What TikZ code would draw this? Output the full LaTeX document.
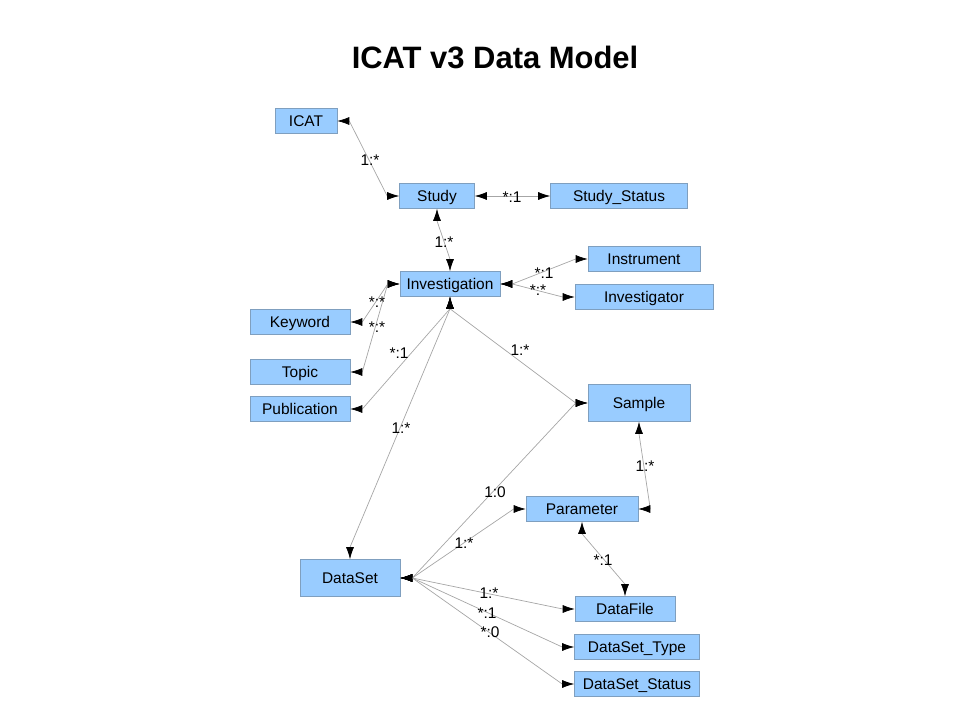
\documentclass[tikz,border=0pt]{standalone}
\usepackage{fontspec}
\setmainfont{Liberation Sans}
\usetikzlibrary{arrows.meta,calc}
\definecolor{boxblue}{HTML}{99CCFF}
\definecolor{boxline}{HTML}{7F9FBF}
\definecolor{linkgray}{HTML}{A6A6A6}
\tikzset{
  entity/.style={draw=boxline, fill=boxblue, minimum height=0.625cm, inner sep=0pt,
    text height=0.72em, text depth=0pt, font=\fontsize{11}{13}\selectfont},
  card/.style={inner sep=0pt, font=\fontsize{11}{13}\selectfont},
  assoc/.style={draw=linkgray, line width=0.5pt,
    {Latex[length=0.3cm,width=0.2cm,color=black]}-{Latex[length=0.3cm,width=0.2cm,color=black]}},
}
\begin{document}
\begin{tikzpicture}[x=0.025cm, y=-0.025cm]
        \useasboundingbox (0,0) rectangle (960,720);
        \node[font=\bfseries\fontsize{22}{26}\selectfont] (title) at (495,57) {ICAT v3 Data Model};

        % entities
        \node[entity, minimum width=1.55cm] (icat) at (306,121) {ICAT};
        \node[entity, minimum width=1.875cm] (study) at (437,196) {Study};
        \node[entity, minimum width=3.425cm] (studystatus) at (619,196) {Study\_Status};
        \node[entity, minimum width=2.8cm] (instrument) at (644,259) {Instrument};
        \node[entity, minimum width=2.5cm] (investigation) at (450,284) {Investigation};
        \node[entity, minimum width=3.45cm] (investigator) at (644,297) {Investigator};
        \node[entity, minimum width=2.5cm] (keyword) at (300,322) {Keyword};
        \node[entity, minimum width=2.5cm] (topic) at (300,372) {Topic};
        \node[entity, minimum width=2.5cm] (publication) at (300,409) {Publication};
        \node[entity, minimum width=2.55cm, minimum height=0.925cm] (sample) at (639,403) {Sample};
        \node[entity, minimum width=2.8cm] (parameter) at (582,509) {Parameter};
        \node[entity, minimum width=2.5cm, minimum height=0.925cm] (dataset) at (350,578) {DataSet};
        \node[entity, minimum width=2.5cm] (datafile) at (625,609) {DataFile};
        \node[entity, minimum width=3.125cm] (datasettype) at (637,647) {DataSet\_Type};
        \node[entity, minimum width=3.125cm] (datasetstatus) at (637,684) {DataSet\_Status};

        % associations
        \draw[assoc] (icat.east) -- ++(12,0) -- ($(study.west)+(-12,0)$) -- (study.west);
        \draw[assoc] (study.east) -- (studystatus.west);
        \draw[assoc] (study.south) -- ++(0,12) -- ($(investigation.north)+(0,-12)$) -- (investigation.north);
        \draw[assoc] (investigation.east) -- ++(12,0) -- ($(instrument.west)+(-12,0)$) -- (instrument.west);
        \draw[assoc] (investigation.east) -- ++(12,0) -- ($(investigator.west)+(-12,0)$) -- (investigator.west);
        \draw[assoc] (investigation.west) -- ++(-12,0) -- ($(keyword.east)+(12,0)$) -- (keyword.east);
        \draw[assoc] (investigation.west) -- ++(-12,0) -- ($(topic.east)+(12,0)$) -- (topic.east);
        \draw[assoc] (investigation.south) -- ++(0,12) -- ($(publication.east)+(12,0)$) -- (publication.east);
        \draw[assoc] (investigation.south) -- ++(0,12) -- ($(dataset.north)+(0,-12)$) -- (dataset.north);
        \draw[assoc] (investigation.south) -- ++(0,12) -- ($(sample.west)+(-12,0)$) -- (sample.west);
        \draw[assoc] (sample.west) -- ++(-12,0) -- ($(dataset.east)+(12,0)$) -- (dataset.east);
        \draw[assoc] (sample.south) -- ++(0,12) -- ($(parameter.east)+(12,0)$) -- (parameter.east);
        \draw[assoc] (parameter.west) -- ++(-12,0) -- ($(dataset.east)+(12,0)$) -- (dataset.east);
        \draw[assoc] (parameter.south) -- ++(0,12) -- ($(datafile.north)+(0,-12)$) -- (datafile.north);
        \draw[assoc] (dataset.east) -- ++(12,0) -- ($(datafile.west)+(-12,0)$) -- (datafile.west);
        \draw[assoc] (dataset.east) -- ++(12,0) -- ($(datasettype.west)+(-12,0)$) -- (datasettype.west);
        \draw[assoc] (dataset.east) -- ++(12,0) -- ($(datasetstatus.west)+(-12,0)$) -- (datasetstatus.west);

        % cardinalities
        \node[card] (c1) at (370,160) {1:*};
        \node[card] (c2) at (512,197) {*:1};
        \node[card] (c3) at (444,242) {1:*};
        \node[card] (c4) at (544,273) {*:1};
        \node[card] (c5) at (538,290) {*:*};
        \node[card] (c6) at (377,302) {*:*};
        \node[card] (c7) at (377,327) {*:*};
        \node[card] (c8) at (399,353) {*:1};
        \node[card] (c9) at (520,350) {1:*};
        \node[card] (c10) at (401,428) {1:*};
        \node[card] (c11) at (495,492) {1:0};
        \node[card] (c12) at (645,466) {1:*};
        \node[card] (c13) at (464,543) {1:*};
        \node[card] (c14) at (603,560) {*:1};
        \node[card] (c15) at (489,593) {1:*};
        \node[card] (c16) at (487,613) {*:1};
        \node[card] (c17) at (490,632) {*:0};
\end{tikzpicture}
\end{document}
